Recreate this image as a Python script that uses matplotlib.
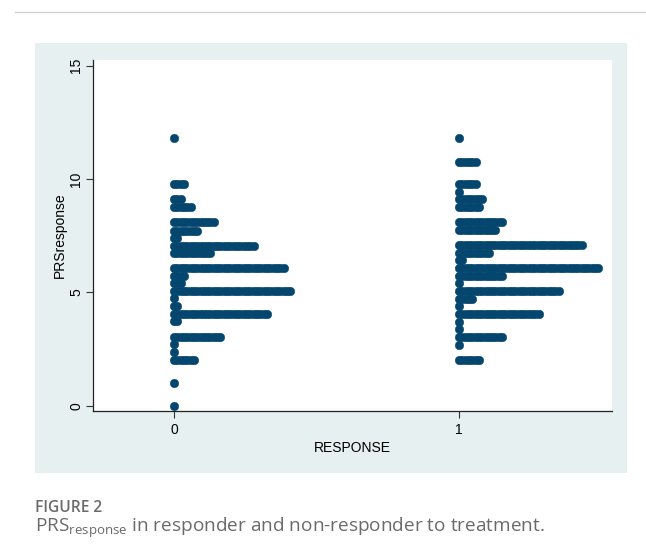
import matplotlib.pyplot as plt
import numpy as np
from matplotlib.patches import Rectangle
from matplotlib.lines import Line2D

plt.rcParams['font.family'] = ['Liberation Sans', 'DejaVu Sans']
plt.rcParams['mathtext.fontset'] = 'custom'
plt.rcParams['mathtext.rm'] = 'Open Sans'

# PRSresponse bin levels and number of patients in each bin
levels0 = [11.80, 9.78, 9.10, 8.75, 8.09, 7.72, 7.41, 7.06, 6.72, 6.06, 5.72, 5.40,
           5.06, 4.74, 4.40, 4.06, 3.74, 3.02, 2.71, 2.38, 2.03, 1.00, 0.00]
counts0 = [1, 4, 3, 6, 13, 8, 2, 25, 12, 34, 4, 3, 36, 1, 2, 29, 2, 15, 1, 1, 7, 1, 1]

levels1 = [11.80, 10.76, 9.78, 9.44, 9.10, 8.75, 8.09, 7.75, 7.09, 6.75, 6.43, 6.06,
           5.72, 5.40, 5.06, 4.71, 4.38, 4.05, 3.71, 3.37, 3.02, 2.68, 2.02]
counts1 = [1, 6, 6, 1, 8, 7, 14, 12, 38, 10, 2, 43, 14, 1, 31, 5, 1, 25, 1, 1, 14, 1, 7]

groups = [0, 1]
dot_color = '#05466f'
dx = 0.01165

W, H = 646, 560
fig = plt.figure(figsize=(W / 100, H / 100), dpi=100)

# light panel behind the graph
fig.patches.append(Rectangle((35 / W, 1 - 473 / H), 592 / W, 430 / H,
                             transform=fig.transFigure, facecolor='#e6f0f0',
                             edgecolor='none', zorder=-5))
fig.lines.append(Line2D([15 / W, 645 / W], [1 - 12 / H, 1 - 12 / H],
                        transform=fig.transFigure, color='#d0d0d0', lw=1))

ax = fig.add_axes([93 / W, 1 - 411 / H, 519 / W, 351 / H])
ax.set_zorder(2)
ax.set_facecolor('white')

for g, levels, counts in [(0, levels0, counts0), (1, levels1, counts1)]:
    for lv, n in zip(levels, counts):
        xs = g + np.arange(n) * dx
        ax.scatter(xs, np.full(n, lv), s=38, color=dot_color,
                   edgecolors=dot_color, linewidths=0.3, zorder=3)

ax.set_xlim(-0.284, 1.537)
ax.set_ylim(-0.23, 15.25)
ax.set_xticks(groups)
ax.set_xticklabels(['0', '1'], fontsize=10)
ax.set_yticks([0, 5, 10, 15])
ax.set_yticklabels(['0', '5', '10', '15'], fontsize=10, rotation=90, va='center')
ax.tick_params(axis='y', pad=2)
ax.tick_params(direction='out', length=5, width=0.8, color='#333333')

for side in ['top', 'right']:
    ax.spines[side].set_visible(False)
for side in ['left', 'bottom']:
    ax.spines[side].set_color('#222222')
    ax.spines[side].set_linewidth(0.9)

ax.set_xlabel('RESPONSE', fontsize=10, labelpad=3)
ax.set_ylabel('PRSresponse', fontsize=10, labelpad=2)

fig.text(35 / W, 1 - 512 / H, 'FIGURE 2', fontsize=11.2, color='#6a6a6a',
         family='Open Sans', fontweight='semibold', va='baseline')
fig.text(35 / W, 1 - 532 / H,
         r'PRS$_{\mathregular{response}}$ in responder and non-responder to treatment.',
         fontsize=13.7, color='#6a6a6a', family='Open Sans', va='baseline')

fig.savefig('out.png', dpi=100)
